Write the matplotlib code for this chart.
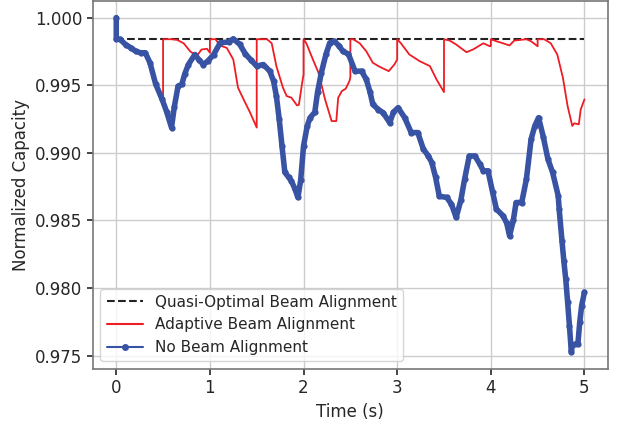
import numpy as np
import matplotlib
matplotlib.use("Agg")
import matplotlib.pyplot as plt
import seaborn as sns

sns.set_style("whitegrid")

# quasi-optimal level
t_opt = [0.0, 5.0]
c_opt = [0.9984, 0.9984]

# adaptive beam alignment (resets every 0.5 s)
t_ada = [0.0, 0.0, 0.04, 0.26, 0.31, 0.36, 0.49, 0.50,
         0.50, 0.59, 0.65, 0.72, 0.79, 0.86, 0.91, 0.97, 1.00,
         1.00, 1.06, 1.09, 1.13, 1.18, 1.25, 1.30, 1.36, 1.43, 1.50,
         1.50, 1.61, 1.66, 1.71, 1.78, 1.82, 1.87, 1.93, 1.95, 1.98, 2.00,
         2.00, 2.03, 2.10, 2.16, 2.23, 2.30, 2.35, 2.37, 2.41, 2.45, 2.49, 2.50,
         2.50, 2.53, 2.60, 2.67, 2.74, 2.80, 2.85, 2.91, 2.97, 3.00,
         3.00, 3.04, 3.13, 3.24, 3.35, 3.42, 3.50,
         3.50, 3.56, 3.63, 3.74, 3.81, 3.92, 3.99, 4.00,
         4.00, 4.06, 4.13, 4.20, 4.25, 4.38, 4.43, 4.50,
         4.50, 4.57, 4.64, 4.71, 4.77, 4.82, 4.87, 4.89, 4.94, 4.96, 5.00]
c_ada = [1.0000, 0.9984, 0.9984, 0.9974, 0.9974, 0.99666, 0.99395, 0.9939,
         0.9984, 0.9984, 0.99835, 0.9981, 0.9975, 0.99715, 0.99764, 0.99769, 0.9974,
         0.9984, 0.9984, 0.9981, 0.99788, 0.99776, 0.9969, 0.99482, 0.99395, 0.99297, 0.99187,
         0.9984, 0.9984, 0.9981, 0.99641, 0.99482, 0.9942, 0.99408, 0.99351, 0.99355, 0.99493, 0.9958,
         0.9984, 0.9981, 0.9969, 0.99592, 0.99395, 0.99235, 0.99235, 0.99408, 0.99457, 0.99474, 0.9953, 0.9956,
         0.9984, 0.9984, 0.9981, 0.99751, 0.99666, 0.99641, 0.99624, 0.99604, 0.99653, 0.9969,
         0.9984, 0.9981, 0.99727, 0.99678, 0.99641, 0.99543, 0.99449,
         0.9984, 0.9983, 0.99801, 0.99744, 0.99764, 0.9981, 0.99788, 0.9979,
         0.9984, 0.99825, 0.9981, 0.99794, 0.9983, 0.9984, 0.99825, 0.99788,
         0.9984, 0.9984, 0.9981, 0.99727, 0.99555, 0.99346, 0.99199, 0.99218, 0.99211, 0.99321, 0.99395]

# no beam alignment
t_no = [0.0, 0.0, 0.04, 0.10, 0.16, 0.21, 0.26, 0.31, 0.36, 0.42, 0.49, 0.54, 0.59,
        0.62, 0.66, 0.70, 0.73, 0.77, 0.84, 0.88, 0.93, 0.98, 1.04, 1.11, 1.20, 1.25,
        1.32, 1.38, 1.44, 1.50, 1.57, 1.64, 1.68, 1.71, 1.74, 1.77, 1.80, 1.84, 1.87,
        1.91, 1.94, 1.97, 2.00, 2.04, 2.07, 2.12, 2.15, 2.19, 2.24, 2.28, 2.33, 2.38,
        2.42, 2.48, 2.55, 2.62, 2.67, 2.71, 2.74, 2.80, 2.85, 2.92, 2.96, 3.01, 3.08,
        3.15, 3.22, 3.28, 3.33, 3.37, 3.41, 3.45, 3.53, 3.58, 3.63, 3.68, 3.72, 3.77,
        3.83, 3.88, 3.92, 3.97, 4.02, 4.06, 4.13, 4.17, 4.20, 4.24, 4.27, 4.33, 4.38,
        4.43, 4.47, 4.51, 4.56, 4.61, 4.66, 4.72, 4.73, 4.76, 4.78, 4.80, 4.82, 4.84,
        4.86, 4.87, 4.90, 4.93, 4.95, 4.97, 5.00]
c_no = [1.0000, 0.9984, 0.9984, 0.9980, 0.99775, 0.9975, 0.9974, 0.9974, 0.99666, 0.9951, 0.99395, 0.9930, 0.99187,
        0.9934, 0.99493, 0.99506, 0.9958, 0.99653, 0.99727, 0.9969, 0.99653, 0.9968, 0.99727, 0.99813, 0.9982, 0.99843,
        0.99801, 0.9973, 0.99685, 0.99641, 0.99653, 0.99604, 0.9953, 0.9942, 0.9925, 0.9905, 0.98857, 0.9882, 0.98793,
        0.9873, 0.9867, 0.9880, 0.99051, 0.9920, 0.9926, 0.9930, 0.9945, 0.99592, 0.9973, 0.99813, 0.99825, 0.9979,
        0.99751, 0.9973, 0.99604, 0.99604, 0.99543, 0.9945, 0.99358, 0.9932, 0.99297, 0.99223, 0.9930, 0.99334, 0.9926,
        0.9915, 0.9915, 0.99027, 0.9898, 0.98928, 0.9882, 0.9868, 0.9867, 0.9862, 0.98523, 0.9865, 0.98805, 0.98977,
        0.98977, 0.9892, 0.98867, 0.98867, 0.98707, 0.98584, 0.98535, 0.9848, 0.98387, 0.9850, 0.98633, 0.98633, 0.98805,
        0.9910, 0.9920, 0.9926, 0.9912, 0.98953, 0.98855, 0.98682, 0.98584, 0.9835, 0.9820, 0.98068, 0.9790, 0.9772,
        0.97527, 0.97576, 0.97585, 0.97589, 0.9775, 0.9787, 0.9797]

fig = plt.figure(figsize=(6.19, 4.23), dpi=100)
ax = fig.add_axes([0.150, 0.128, 0.832, 0.870])

ax.plot(t_opt, c_opt, "--", color="#222222", lw=1.5, label="Quasi-Optimal Beam Alignment")
ax.plot(t_ada, c_ada, "-", color="#ee1c25", lw=1.3, label="Adaptive Beam Alignment")
ax.plot(t_no, c_no, "-", color="#3953a4", lw=4.0, marker="o", ms=3.5,
        solid_joinstyle="round", solid_capstyle="round", label="No Beam Alignment")

ax.set_xticks([0, 1, 2, 3, 4, 5])
ax.set_yticks([0.975, 0.980, 0.985, 0.990, 0.995, 1.000])
ax.set_xlabel("Time (s)", fontsize=12)
ax.set_ylabel("Normalized Capacity", fontsize=12)
ax.tick_params(labelsize=12, length=4, width=1.2, colors="#262626", bottom=True, left=True)
for s in ax.spines.values():
    s.set_color("#777777")
    s.set_linewidth(1.2)
ax.grid(True, color="#cccccc", lw=1)

# legend lines are thin
leg = ax.legend(loc="lower left", fontsize=11, handlelength=2.4, frameon=True)
for h in leg.get_lines():
    h.set_linewidth(1.5)
    h.set_markersize(4)

fig.savefig("out.png", dpi=100)
